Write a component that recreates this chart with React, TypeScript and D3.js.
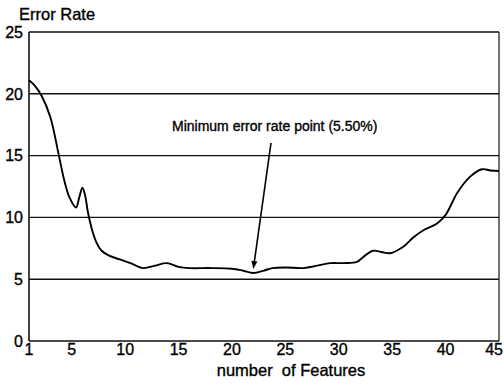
import React from "react";
import * as d3 from "d3";

const features = [1, 1.5, 2.2, 3, 3.8, 4.3, 4.8, 5.4, 5.7, 6.0, 6.25, 6.5, 6.9, 7.3, 7.8, 8.5, 9.5, 10.5, 11.7, 12.8, 13.9, 15, 16, 18, 20, 21, 22, 23, 23.8, 25, 26.7, 28, 29.2, 30.5, 31.7, 32.3, 33.2, 34, 34.8, 36, 37, 38, 39.2, 40, 41.1, 42.3, 43.4, 44.2, 45];
const errorRate = [21.1, 20.7, 19.8, 18.1, 15.0, 13.0, 11.6, 10.8, 11.6, 12.4, 11.8, 10.5, 9.0, 8.0, 7.3, 6.9, 6.6, 6.3, 5.9, 6.1, 6.3, 6.0, 5.9, 5.9, 5.85, 5.7, 5.5, 5.7, 5.9, 5.95, 5.9, 6.1, 6.3, 6.3, 6.4, 6.8, 7.3, 7.2, 7.1, 7.6, 8.4, 9.0, 9.5, 10.2, 12.0, 13.3, 13.9, 13.8, 13.75];

const xTicks = [1, 5, 10, 15, 20, 25, 30, 35, 40, 45];
const yTicks = [0, 5, 10, 15, 20, 25];

const minFeature = 22;
const minValue = 5.5;
const annotationText = "Minimum error rate point (5.50%)";

const W = 504;
const H = 390;
const left = 29;
const right = 499;
const top = 32;
const bottom = 341;
const FONT = "'Liberation Sans', Arial, Helvetica, sans-serif";

export default function App() {
  if (typeof document !== "undefined") document.body.style.margin = "0";
  const x = d3.scaleLinear().domain([1, 45]).range([left, right]);
  const y = d3.scaleLinear().domain([0, 25]).range([bottom, top]);
  const pts: [number, number][] = features.map((f, i) => [f, errorRate[i]]);
  const line = d3
    .line<[number, number]>()
    .x((d) => x(d[0]))
    .y((d) => y(d[1]))
    .curve(d3.curveCatmullRom.alpha(0.5));

  const tipX = x(minFeature);
  const tipY = y(minValue) - 4;
  const startX = 271;
  const startY = 143;
  const ang = Math.atan2(tipY - startY, tipX - startX);
  const ah = 8;
  const aw = 3;
  const bx = tipX - ah * Math.cos(ang);
  const by = tipY - ah * Math.sin(ang);
  const px = -Math.sin(ang) * aw;
  const py = Math.cos(ang) * aw;
  const textStroke = { stroke: "#000", strokeWidth: 0.35 };

  return (
    <svg width={W} height={H} style={{ display: "block", background: "#fff" }} fontFamily={FONT}>
      {yTicks.filter((t) => t > 0).map((t) => (
        <line key={t} x1={left} x2={right} y1={y(t)} y2={y(t)} stroke="#111" strokeWidth={1.4} />
      ))}
      <line x1={left} x2={left} y1={top} y2={bottom} stroke="#111" strokeWidth={1.6} />
      <line x1={right} x2={right} y1={top} y2={bottom} stroke="#111" strokeWidth={1.2} />
      <line x1={left} x2={right} y1={bottom} y2={bottom} stroke="#111" strokeWidth={1.6} />
      <path d={line(pts) || ""} fill="none" stroke="#000" strokeWidth={1.9} />
      {yTicks.map((t) => (
        <text key={t} x={23} y={y(t)} dy="0.36em" textAnchor="end" fontSize={16} fill="#000" {...textStroke}>
          {t}
        </text>
      ))}
      {xTicks.map((t, i) => (
        <text
          key={t}
          x={i === xTicks.length - 1 ? x(t) + 4 : x(t)}
          y={355}
          textAnchor={i === xTicks.length - 1 ? "end" : "middle"}
          fontSize={16}
          fill="#000"
          {...textStroke}
        >
          {t}
        </text>
      ))}
      <text x={19} y={20} fontSize={16.5} fill="#000" {...textStroke}>Error Rate</text>
      <text x={291} y={376} textAnchor="middle" fontSize={16.5} fill="#000" style={{ whiteSpace: "pre" }} {...textStroke}>
        {"number  of Features"}
      </text>
      <text x={172} y={131} fontSize={14} fill="#000" {...textStroke}>{annotationText}</text>
      <line x1={startX} y1={startY} x2={bx} y2={by} stroke="#000" strokeWidth={1.6} />
      <path d={`M${tipX},${tipY}L${bx + px},${by + py}L${bx - px},${by - py}Z`} fill="#000" />
    </svg>
  );
}
